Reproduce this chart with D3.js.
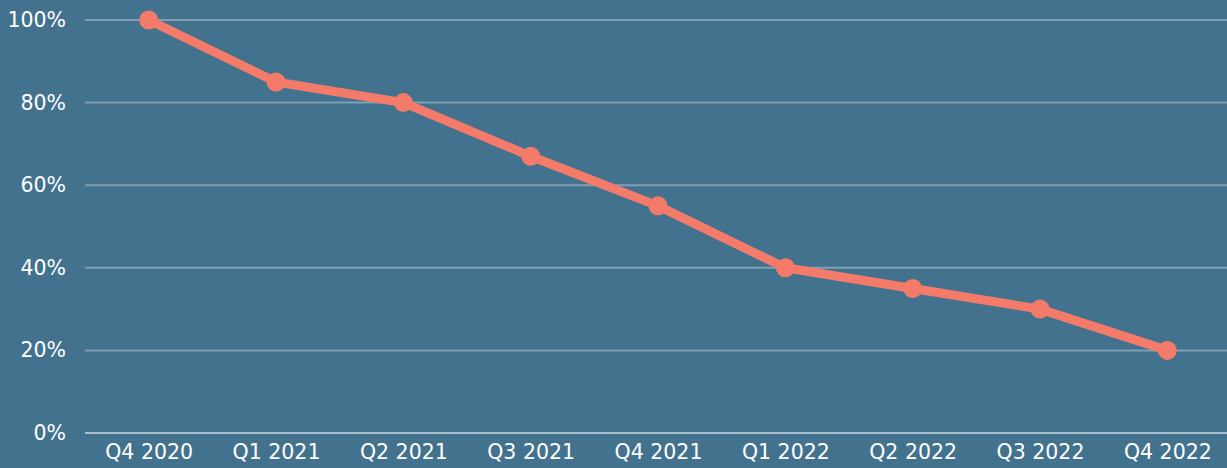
<!DOCTYPE html>
<html lang="en">
<head>
  <meta charset="UTF-8">
  <title>Quarterly decline</title>
  <style>
    body { margin: 0; background: #43728f; }
    #chart { display: block; }
    .grid line { stroke: #ffffff; stroke-opacity: 0.32; stroke-width: 2; }
    .grid .zero { stroke-opacity: 0.55; }
    .axis text { fill: #ffffff; font-family: "DejaVu Sans", sans-serif; font-size: 20.5px; }
    .axis path, .axis line { display: none; }
    .serie { fill: none; stroke: #f47b69; stroke-width: 9; stroke-linejoin: round; }
    .ponto { fill: #f47b69; }
  </style>
</head>
<body>
  <svg id="chart"></svg>
  <script src="https://d3js.org/d3.v7.min.js"></script>
  <script>
    const quarters = ['Q4 2020', 'Q1 2021', 'Q2 2021', 'Q3 2021', 'Q4 2021', 'Q1 2022', 'Q2 2022', 'Q3 2022', 'Q4 2022'];
    const values = [100, 85, 80, 67, 55, 40, 35, 30, 20];
    const yTicks = [0, 20, 40, 60, 80, 100];

    function draw() {
      const width = 1227;
      const height = 468;
      const margin = { top: 20, right: 0, bottom: 35, left: 85 };
      const svg = d3.select('#chart').attr('width', width).attr('height', height);

      const x = d3.scalePoint().domain(quarters).range([margin.left, width + 4]).padding(0.5);
      const y = d3.scaleLinear().domain([0, 100]).range([height - margin.bottom, margin.top]);

      // gridlines
      svg.append('g').attr('class', 'grid')
        .selectAll('line')
        .data(yTicks)
        .enter()
        .append('line')
        .classed('zero', d => d === 0)
        .attr('x1', margin.left)
        .attr('x2', width - margin.right)
        .attr('y1', d => y(d))
        .attr('y2', d => y(d));

      svg.append('g').attr('class', 'axis')
        .attr('transform', `translate(${margin.left - 19},0)`)
        .call(d3.axisLeft(y).tickValues(yTicks).tickSize(0).tickPadding(0).tickFormat(d => d + '%'));

      svg.append('g').attr('class', 'axis')
        .attr('transform', `translate(0,${height - margin.bottom})`)
        .call(d3.axisBottom(x).tickSize(0).tickPadding(11));

      const line = d3.line().x((d, i) => x(quarters[i])).y(d => y(d));
      svg.append('path').datum(values).attr('class', 'serie').attr('d', line);

      svg.selectAll('.ponto')
        .data(values)
        .enter()
        .append('circle')
        .attr('class', 'ponto')
        .attr('cx', (d, i) => x(quarters[i]))
        .attr('cy', d => y(d))
        .attr('r', 9.5);
    }

    draw();
  </script>
</body>
</html>
